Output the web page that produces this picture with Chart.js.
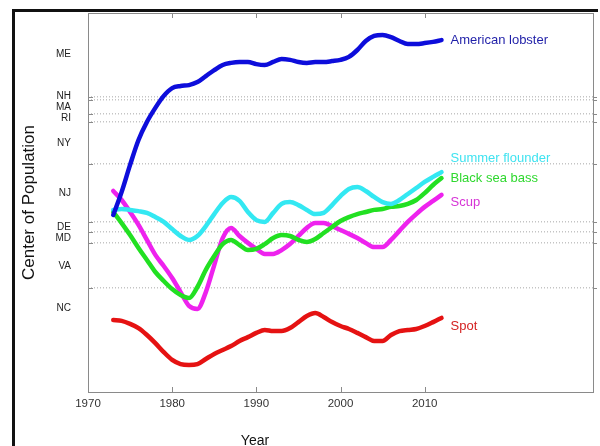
<!DOCTYPE html>
<html>
<head>
<meta charset="utf-8">
<script src="https://cdn.jsdelivr.net/npm/chart.js@4"></script>
<style>
  html, body { margin: 0; padding: 0; background: #fff; }
  canvas { display: block; }
</style>
</head>
<body>
<canvas id="range-chart" width="600" height="446"></canvas>
<script>
const years = [1973, 1974, 1975, 1976, 1977, 1978, 1979, 1980, 1981, 1982,
  1983, 1984, 1985, 1986, 1987, 1988, 1989, 1990, 1991, 1992,
  1993, 1994, 1995, 1996, 1997, 1998, 1999, 2000, 2001, 2002,
  2003, 2004, 2005, 2006, 2007, 2008, 2009, 2010, 2011, 2012];

// center of population, as a latitude-like position along the coast
const lobster = [38.9, 39.67, 40.57, 41.4, 42.0, 42.47, 42.87, 43.13, 43.2, 43.23,
  43.33, 43.53, 43.73, 43.9, 43.97, 44.0, 44.0, 43.93, 43.9, 44.0,
  44.1, 44.07, 44.0, 43.97, 44.0, 44.0, 44.03, 44.07, 44.17, 44.4,
  44.7, 44.87, 44.9, 44.83, 44.7, 44.6, 44.6, 44.63, 44.67, 44.73];
const flounder = [39.07, 39.1, 39.07, 39.03, 38.97, 38.83, 38.67, 38.43, 38.2, 38.07,
  38.2, 38.53, 38.93, 39.3, 39.5, 39.37, 39.0, 38.73, 38.67, 38.97,
  39.27, 39.33, 39.23, 39.07, 38.93, 38.97, 39.23, 39.53, 39.77, 39.83,
  39.7, 39.5, 39.33, 39.27, 39.4, 39.6, 39.8, 40.0, 40.17, 40.33];
const seaBass = [39.0, 38.63, 38.23, 37.8, 37.4, 37.0, 36.7, 36.43, 36.23, 36.13,
  36.5, 37.07, 37.53, 37.93, 38.07, 37.9, 37.73, 37.77, 37.93, 38.13,
  38.23, 38.2, 38.07, 38.0, 38.1, 38.3, 38.5, 38.7, 38.83, 38.93,
  39.0, 39.07, 39.1, 39.17, 39.2, 39.27, 39.4, 39.63, 39.9, 40.13];
const scup = [39.7, 39.4, 39.0, 38.57, 38.07, 37.57, 37.2, 36.8, 36.33, 35.87,
  35.77, 36.33, 37.23, 38.13, 38.47, 38.2, 37.97, 37.77, 37.6, 37.6,
  37.73, 37.93, 38.2, 38.47, 38.63, 38.63, 38.53, 38.4, 38.27, 38.13,
  37.97, 37.83, 37.83, 38.07, 38.37, 38.67, 38.93, 39.17, 39.37, 39.57];
const spot = [35.4, 35.37, 35.27, 35.13, 34.9, 34.63, 34.33, 34.07, 33.93, 33.9,
  33.93, 34.1, 34.27, 34.4, 34.53, 34.7, 34.83, 34.97, 35.07, 35.03,
  35.03, 35.13, 35.33, 35.53, 35.63, 35.5, 35.33, 35.2, 35.1, 34.97,
  34.83, 34.7, 34.7, 34.9, 35.03, 35.07, 35.1, 35.2, 35.33, 35.47];

const seriesNames = ["American lobster", "Summer flounder", "Black sea bass", "Scup", "Spot"];

// state borders and label positions on the same scale
const stateBorders = [36.47, 37.97, 38.33, 38.67, 40.6, 42.0, 42.27, 42.73, 42.83];
const stateNames = ["NC", "VA", "MD", "DE", "NJ", "NY", "RI", "MA", "NH", "ME"];
const statePos = [35.8, 37.2, 38.13, 38.5, 39.63, 41.3, 42.13, 42.5, 42.85, 44.27];

const xTicksShown = [1980, 1990, 2000, 2010];

const lineColors = ["#0d0ddb", "#33e8f2", "#22e022", "#ee22ee", "#e51212"];
const textColors = ["#1f1fa8", "#3fe3f0", "#2fd82f", "#d633d6", "#d42222"];
const labelShift = [0, -14, 0, 8, 9];

const frameAndLabels = {
  id: "frameAndLabels",
  beforeDraw(chart) {
    const { ctx } = chart;
    ctx.save();
    ctx.fillStyle = "#fff";
    ctx.fillRect(0, 0, chart.width, chart.height);
    ctx.strokeStyle = "#111";
    ctx.lineWidth = 3;
    ctx.beginPath();
    ctx.moveTo(13.5, chart.height);
    ctx.lineTo(13.5, 10.5);
    ctx.lineTo(598, 10.5);
    ctx.stroke();
    ctx.restore();
  },
  afterDatasetsDraw(chart) {
    const { ctx, chartArea: a } = chart;
    const xs = chart.scales.x;
    const ys = chart.scales.y;
    ctx.save();
    ctx.strokeStyle = "#8a8a8a";
    ctx.lineWidth = 1;
    ctx.strokeRect(a.left + 0.5, a.top + 0.5, a.right - a.left, a.bottom - a.top);
    ctx.beginPath();
    xTicksShown.forEach((v) => {
      const px = Math.round(xs.getPixelForValue(v)) + 0.5;
      ctx.moveTo(px, a.bottom);
      ctx.lineTo(px, a.bottom - 5);
      ctx.moveTo(px, a.top);
      ctx.lineTo(px, a.top + 5);
    });
    stateBorders.forEach((v) => {
      const py = Math.round(ys.getPixelForValue(v)) + 0.5;
      ctx.moveTo(a.left, py);
      ctx.lineTo(a.left + 5, py);
      ctx.moveTo(a.right, py);
      ctx.lineTo(a.right + 4, py);
    });
    ctx.stroke();

    ctx.font = "13px 'Liberation Sans', Arial, sans-serif";
    ctx.textBaseline = "middle";
    ctx.textAlign = "left";
    chart.data.datasets.forEach((ds, i) => {
      const pts = chart.getDatasetMeta(i).data;
      const last = pts[pts.length - 1];
      ctx.fillStyle = textColors[i];
      ctx.fillText(seriesNames[i], last.x + 9, last.y + labelShift[i]);
    });

    ctx.fillStyle = "#111";
    ctx.font = "14px 'Liberation Sans', Arial, sans-serif";
    ctx.textAlign = "center";
    ctx.fillText("Year", 255, 441);
    ctx.restore();
  },
};

const series = [lobster, flounder, seaBass, scup, spot];

const noPad = (scale) => {
  scale.paddingTop = 0;
  scale.paddingBottom = 0;
  scale.paddingLeft = 0;
  scale.paddingRight = 0;
};

new Chart(document.getElementById("range-chart"), {
  type: "line",
  data: {
    datasets: series.map((vals, i) => ({
      label: seriesNames[i],
      data: years.map((yr, j) => ({ x: yr, y: vals[j] })),
      borderColor: lineColors[i],
      borderWidth: 4.5,
      pointRadius: 0,
      cubicInterpolationMode: "monotone",
      borderCapStyle: "round",
      borderJoinStyle: "round",
      fill: false,
    })),
  },
  options: {
    responsive: false,
    animation: false,
    layout: { padding: { left: 0, top: 13, right: 7, bottom: 0 } },
    plugins: {
      legend: { display: false },
      tooltip: { enabled: false },
    },
    scales: {
      x: {
        type: "linear",
        min: 1970,
        max: 2030,
        afterFit: (scale) => { scale.height = 54; noPad(scale); },
        grid: { display: false, drawTicks: false },
        border: { display: false },
        ticks: {
          stepSize: 10,
          padding: 5,
          maxRotation: 0,
          color: "#333",
          font: { family: "'Liberation Sans', Arial, sans-serif", size: 11.5 },
          callback: (v) => (v <= 2010 ? String(v) : ""),
        },
      },
      y: {
        type: "linear",
        min: 33,
        max: 45.633,
        afterFit: (scale) => { scale.width = 88; noPad(scale); },
        afterBuildTicks: (scale) => {
          scale.ticks = stateBorders.map((v) => ({ value: v }))
            .concat(statePos.map((v) => ({ value: v })));
        },
        border: { display: false, dash: [1, 2] },
        grid: {
          drawTicks: false,
          lineWidth: 1.5,
          color: (c) => (c.index < stateBorders.length ? "#c4c4c4" : "rgba(0,0,0,0)"),
        },
        ticks: {
          autoSkip: false,
          padding: 17,
          color: "#222",
          font: { family: "'Liberation Sans', Arial, sans-serif", size: 10 },
          callback: (v, idx) => (idx < stateBorders.length ? "" : stateNames[idx - stateBorders.length]),
        },
        title: {
          display: true,
          text: "Center of Population",
          color: "#111",
          padding: { top: 19, bottom: 0 },
          font: { family: "'Liberation Sans', Arial, sans-serif", size: 17 },
        },
      },
    },
  },
  plugins: [frameAndLabels],
});
</script>
</body>
</html>
